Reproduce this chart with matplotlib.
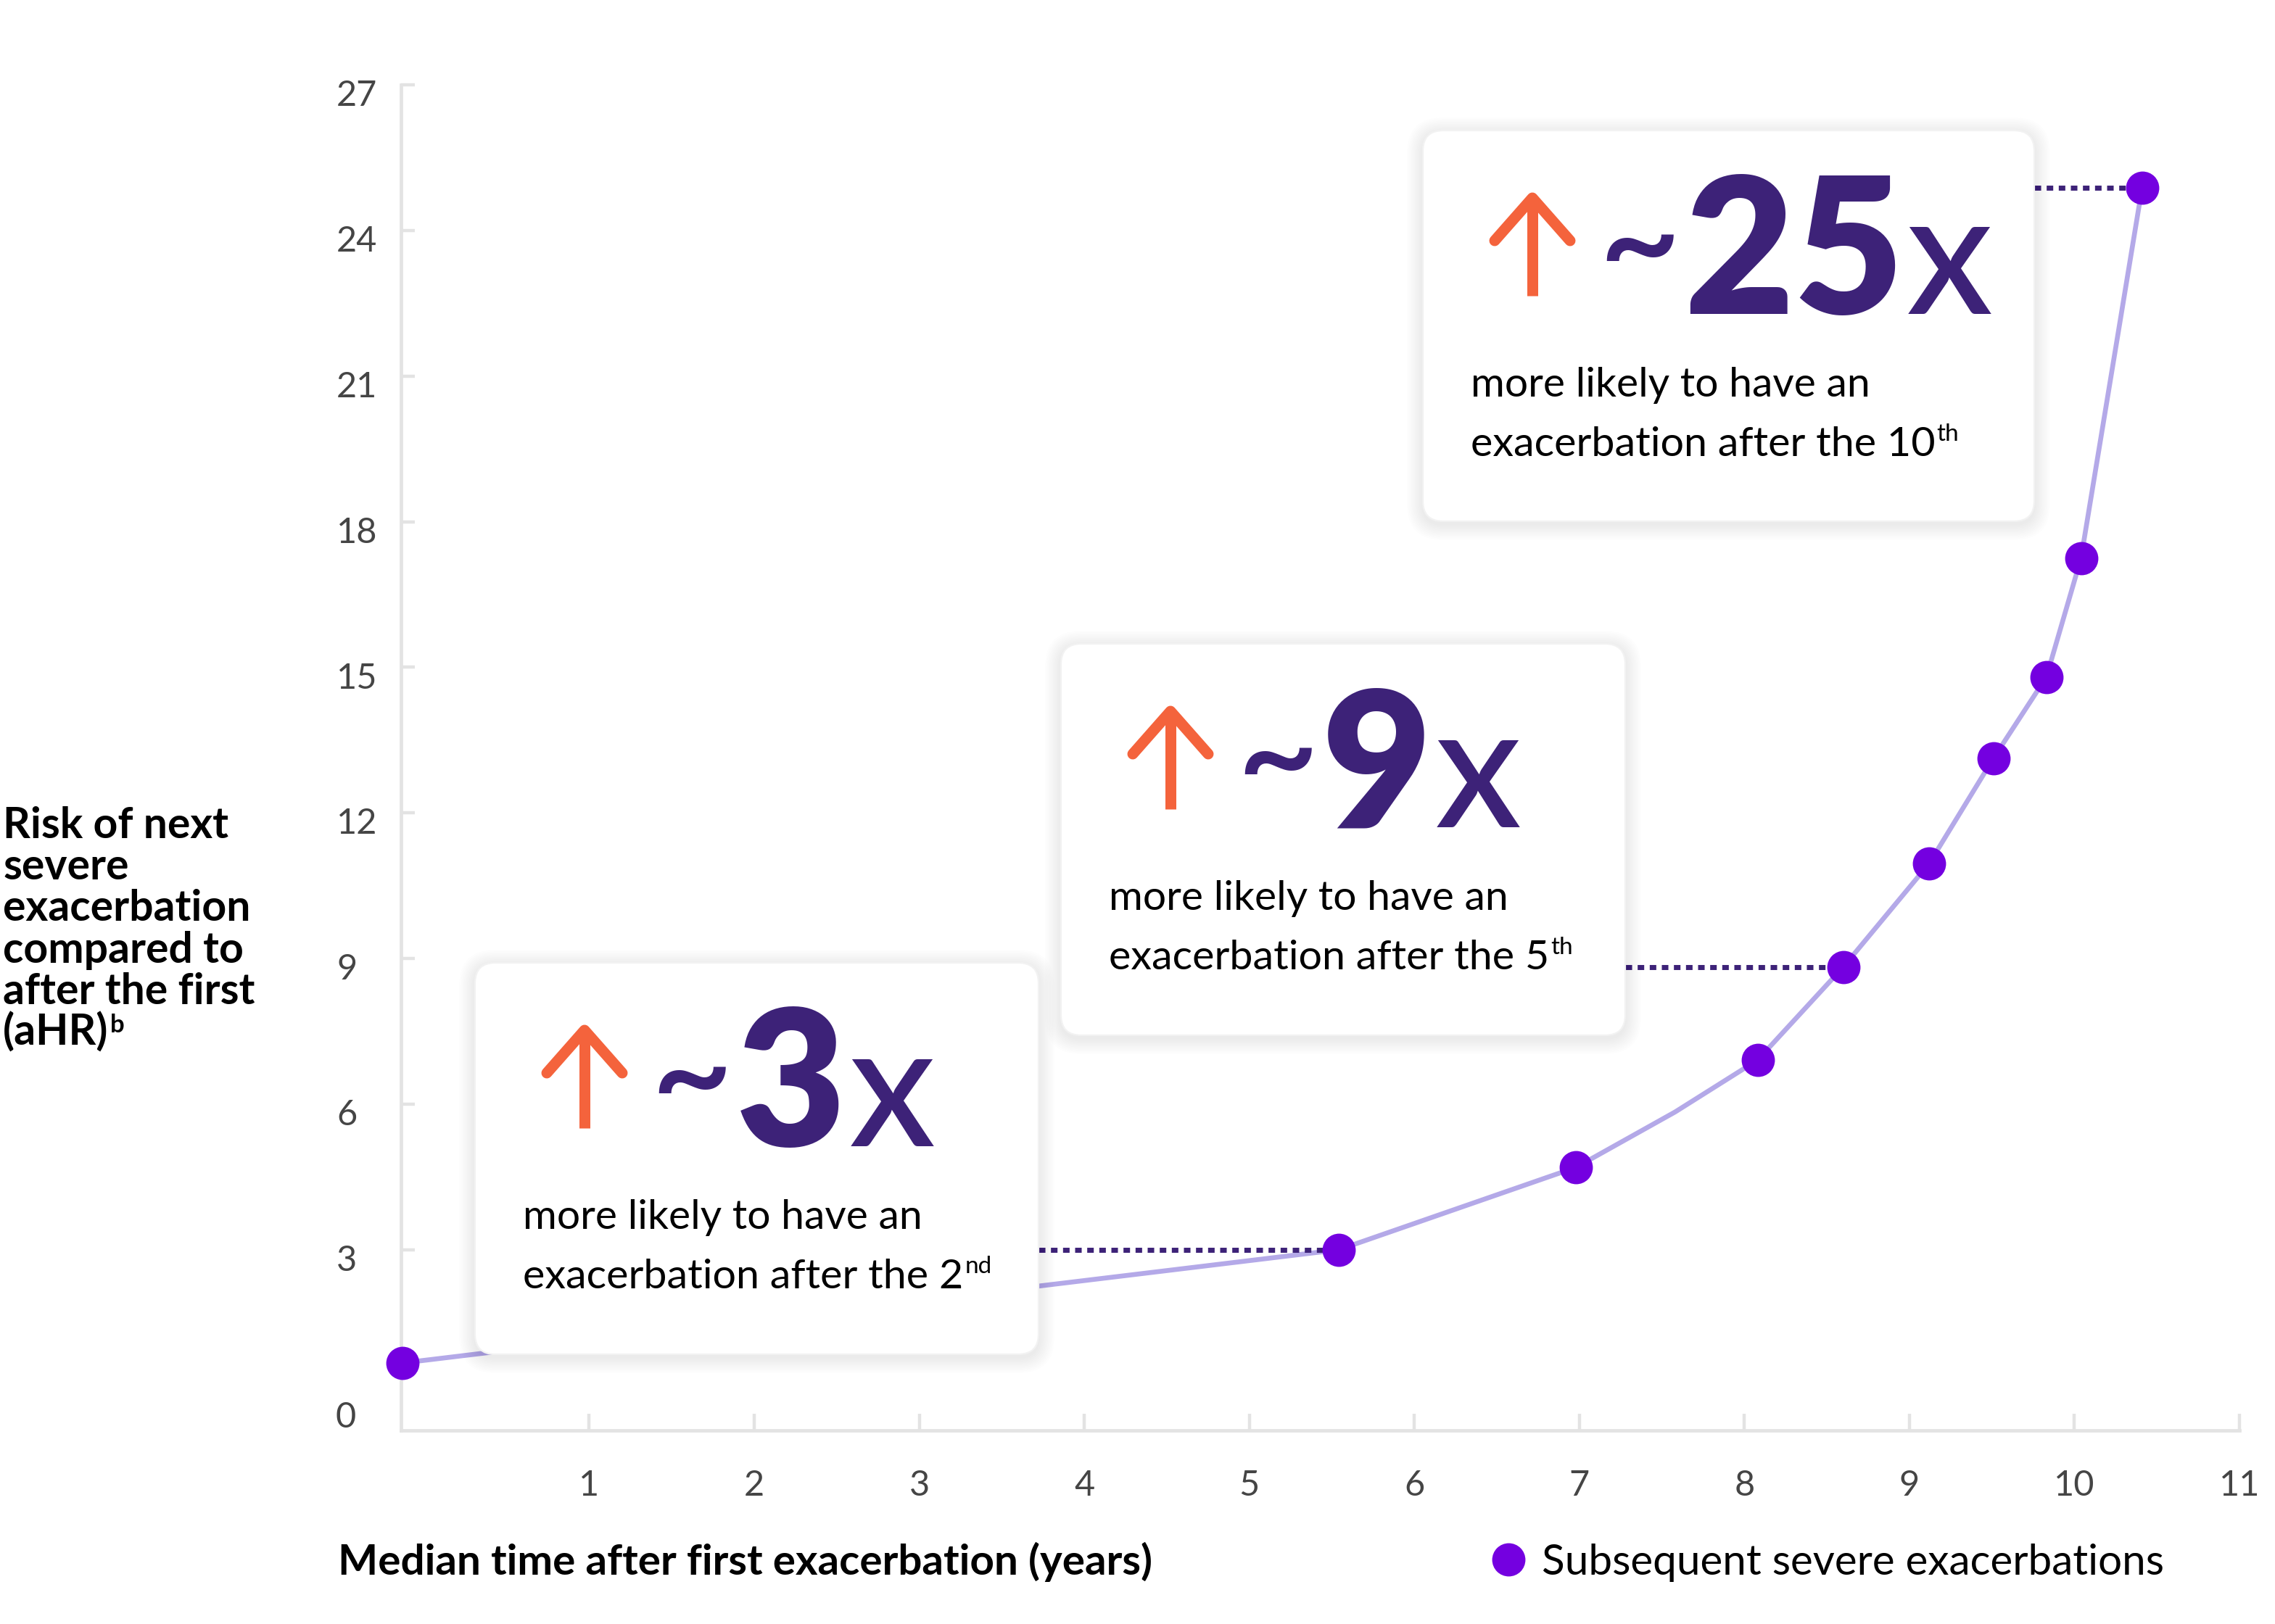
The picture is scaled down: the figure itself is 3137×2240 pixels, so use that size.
import matplotlib
matplotlib.use("Agg")
import matplotlib.pyplot as plt
from matplotlib.patches import FancyBboxPatch
from matplotlib.lines import Line2D
from matplotlib.transforms import IdentityTransform, ScaledTranslation

# values
time_years = [-0.13, 5.54, 6.98, 7.58, 8.08, 8.60, 9.12, 9.51, 9.83, 10.04, 10.41]
ahr = [0.67, 3.0, 4.70, 5.84, 6.91, 8.83, 10.96, 13.13, 14.80, 17.25, 24.88]
has_marker = [True, True, True, False, True, True, True, True, True, True, True]

x_ticks = list(range(1, 12))
y_ticks = [3, 6, 9, 12, 15, 18, 21, 24, 27]

callout_values = ["3", "9", "25"]
callout_ordinals = ["2", "5", "10"]
callout_suffixes = ["nd", "th", "th"]
callout_point_idx = [1, 5, 10]

y_label_lines = ["Risk of next", "severe", "exacerbation", "compared to",
                 "after the first", "(aHR)"]
x_label = "Median time after first exacerbation (years)"
legend_label = "Subsequent severe exacerbations"

W, H, DPI = 3137, 2240, 200
FONT = "Lato"
LINE_C = "#b4a9e8"
DOT_C = "#7400e0"
NUM_C = "#3d2278"
ARROW_C = "#f4633c"
AXIS_C = "#e3e3e3"
TICK_TXT = "#454545"

plt.rcParams["font.family"] = [FONT, "DejaVu Sans"]

fig = plt.figure(figsize=(W / DPI, H / DPI), dpi=DPI)
ax = fig.add_axes([553 / W, 1 - 1973 / H, (3088 - 553) / W, (1973 - 117) / H])
ax.set_xlim(-0.14, 11.0)
ax.set_ylim(-0.72, 27)

for s in ["top", "right"]:
    ax.spines[s].set_visible(False)
for s in ["left", "bottom"]:
    ax.spines[s].set_color(AXIS_C)
    ax.spines[s].set_linewidth(1.7)

ax.set_xticks(x_ticks)
ax.set_yticks(y_ticks)
ax.tick_params(axis="x", direction="in", length=8.3, width=1.6, color=AXIS_C,
               pad=19.5, labelsize=17.5, labelcolor=TICK_TXT)
ax.tick_params(axis="y", direction="in", length=7, width=1.6, color=AXIS_C,
               pad=32, labelsize=17.5, labelcolor=TICK_TXT)
down = ScaledTranslation(0, -4 / 72, fig.dpi_scale_trans)
for lbl in ax.get_yticklabels():
    lbl.set_horizontalalignment("left")
    lbl.set_transform(lbl.get_transform() + down)
fig.text(463, H - 1955, "0", transform=IdentityTransform(), fontsize=17.5,
         color=TICK_TXT, ha="left", va="center")

# curve and markers
ax.plot(time_years, ahr, color=LINE_C, lw=2.4, zorder=2, clip_on=False)
mx = [t for t, m in zip(time_years, has_marker) if m]
my = [v for v, m in zip(ahr, has_marker) if m]
ax.plot(mx, my, "o", color=DOT_C, ms=16.5, mec="none", zorder=4, clip_on=False)

# callout boxes, pixel coords (left, top, right, bottom)
boxes = [(655, 1328, 1432, 1868), (1463, 888, 2241, 1428), (1962, 180, 2805, 719)]
idt = IdentityTransform()


def draw_box(x0, y0, x1, y1):
    w, h = x1 - x0, y1 - y0
    for i in range(10, 0, -1):
        g = i * 2.2
        sh = FancyBboxPatch((x0 - g, H - y1 - g - 4), w + 2 * g, h + 2 * g,
                            boxstyle=f"round,pad=0,rounding_size={28 + g}",
                            transform=idt, fc="black", ec="none", alpha=0.007,
                            zorder=5)
        fig.add_artist(sh)
    fig.add_artist(FancyBboxPatch((x0, H - y1), w, h,
                                  boxstyle="round,pad=0,rounding_size=28",
                                  transform=idt, fc="white", ec="#f2f2f2",
                                  lw=0.8, zorder=6))


def draw_arrow(cx, tip, bottom):
    fig.add_artist(Line2D([cx, cx], [H - bottom, H - tip - 6], transform=idt,
                          color=ARROW_C, lw=5.4, solid_capstyle="butt", zorder=7))
    fig.add_artist(Line2D([cx - 52, cx, cx + 52], [H - tip - 59, H - tip, H - tip - 59],
                          transform=idt, color=ARROW_C, lw=5.4,
                          solid_capstyle="round", solid_joinstyle="round", zorder=7))


num_texts = []
line2_texts = []
for (x0, y0, x1, y1), val, ordn in zip(boxes, callout_values, callout_ordinals):
    draw_box(x0, y0, x1, y1)
    draw_arrow(x0 + 151, y0 + 93, y0 + 228)
    fig.text(x0 + 242, H - (y0 + 163), "~", transform=idt, fontsize=70,
             fontweight="semibold", color=NUM_C, ha="left", va="center", zorder=7)
    t = fig.text(x0 + 360, H - (y0 + 253), val, transform=idt, fontsize=94,
                 fontweight="heavy", color=NUM_C, ha="left", va="baseline", zorder=7)
    num_texts.append(t)
    fig.text(x0 + 66, H - (y0 + 367), "more likely to have an", transform=idt,
             fontsize=20.5, color="black", ha="left", va="baseline", zorder=7)
    t2 = fig.text(x0 + 66, H - (y0 + 449), f"exacerbation after the {ordn}",
                  transform=idt, fontsize=20.7, color="black", ha="left",
                  va="baseline", zorder=7)
    line2_texts.append(t2)

# dotted connectors from box edge to the matching point
for (x0, y0, x1, y1), i in zip(boxes, callout_point_idx):
    bx = ax.transData.inverted().transform((x1, 0))[0]
    ax.plot([bx, time_years[i] - 0.08], [ahr[i], ahr[i]], color=NUM_C, lw=2.5,
            ls=(0, (1.3, 1.1)), dash_capstyle="butt", zorder=3, clip_on=False)

# axis labels
ylab_texts = []
for k, line in enumerate(y_label_lines):
    t = fig.text(4, H - (1156 + 57.2 * k), line, transform=idt, fontsize=21.2,
                 fontweight="bold", color="black", ha="left", va="baseline")
    ylab_texts.append(t)
fig.text(466, H - 2172, x_label, transform=idt, fontsize=21, fontweight="bold",
         color="black", ha="left", va="baseline")

# legend
fig.add_artist(Line2D([2080], [H - 2151], transform=idt, marker="o", ms=16.5,
                      color=DOT_C, mec="none", lw=0))
fig.text(2126, H - 2172, legend_label, transform=idt, fontsize=21, color="black",
         ha="left", va="baseline")

# place the "x" and superscripts after measuring the text they follow
fig.canvas.draw()
r = fig.canvas.get_renderer()
for t in num_texts:
    bb = t.get_window_extent(r)
    fig.text(bb.x1 + 4, t.get_position()[1], "x", transform=idt,
             fontsize=85, fontweight="medium", color=NUM_C, ha="left",
             va="baseline", zorder=7)
for t, suf in zip(line2_texts, callout_suffixes):
    bb = t.get_window_extent(r)
    fig.text(bb.x1 + 2, t.get_position()[1] + 21, suf, transform=idt,
             fontsize=12, color="black", ha="left", va="baseline", zorder=7)
t = ylab_texts[-1]
bb = t.get_window_extent(r)
fig.text(bb.x1 + 2, t.get_position()[1] + 18, "b", transform=idt,
         fontsize=12.5, fontweight="bold", color="black", ha="left", va="baseline")

fig.savefig("out.png", dpi=DPI, facecolor="white")
